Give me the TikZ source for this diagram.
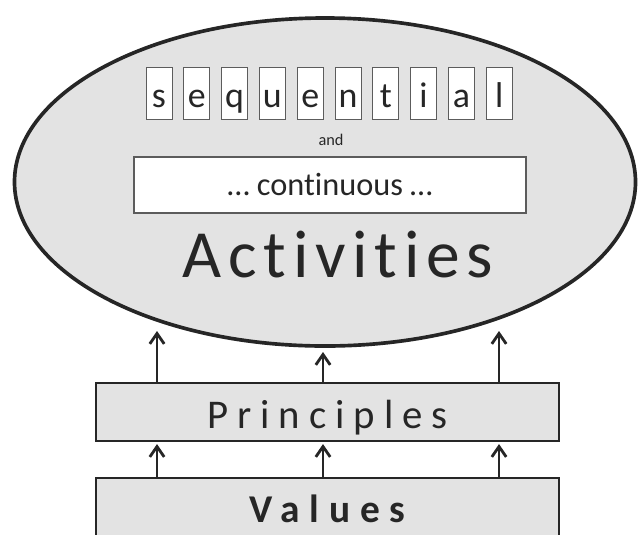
\documentclass[tikz,border=0pt]{standalone}
\usepackage{fontspec}
\setmainfont{Carlito}[Ligatures=NoCommon]
\usetikzlibrary{shapes.geometric,arrows.meta}
\definecolor{ink}{HTML}{262626}
\definecolor{shade}{HTML}{E3E3E3}
\definecolor{rim}{HTML}{5C5C5C}
\tikzset{
  up/.style={draw=ink,line width=2pt,-{Straight Barb[length=2.6mm,width=3.6mm]}},
  tile/.style={draw=rim,fill=white,line width=0.6pt,inner sep=0pt,
    minimum width=6.5mm,minimum height=13mm,text height=7mm,text depth=0pt,
    font=\fontsize{25.5}{30}\selectfont},
  band/.style={draw=ink,fill=shade,line width=1.5pt,inner sep=0pt,
    minimum width=115.75mm,text depth=0pt},
}
\begin{document}
\begin{tikzpicture}[x=0.25mm,y=-0.25mm,text=ink]
\clip (0,0) rectangle (640,534);
\fill[white] (0,0) rectangle (640,534);
\node[ellipse,draw=ink,fill=shade,line width=2.6pt,inner sep=0pt,
  minimum width=155.25mm,minimum height=82mm] (act) at (325,182) {};
\foreach \l [count=\i] in {s,e,q,u,e,n,t,i,a,l}
  \node[tile] (seq\i) at (121.2+37.8*\i,93) {\l};
\node[font=\fontsize{11.6}{14}\selectfont] (and) at (331,140) {and};
\node[draw=rim,fill=white,line width=1pt,inner sep=0pt,minimum width=98mm,
  minimum height=14mm,text height=5mm,text depth=0pt,
  font=\fontsize{23}{28}\selectfont] (cont) at (330,185) {… continuous …};
\node[anchor=base,font=\fontsize{48}{56}\selectfont\addfontfeature{LetterSpace=10}]
  (acttxt) at (338,277) {Activities};
\node[band,minimum height=14.5mm,text height=8mm,
  font=\fontsize{29}{34}\selectfont\addfontfeature{LetterSpace=22}]
  (prin) at (327.5,412) {Principles};
\node[band,minimum height=20mm,text height=2mm,
  font=\fontsize{28}{34}\selectfont\bfseries\addfontfeature{LetterSpace=25}]
  (val) at (327.5,518) {Values};
\coordinate (t1) at (157,331);
\coordinate (t2) at (323,352);
\coordinate (t3) at (499,331);
\foreach \i in {1,2,3} {
  \draw[up] (prin.north -| t\i) -- (t\i);
  \draw[up] (val.north -| t\i) -- ([yshift=-0.5mm]prin.south -| t\i);
}
\end{tikzpicture}
\end{document}
